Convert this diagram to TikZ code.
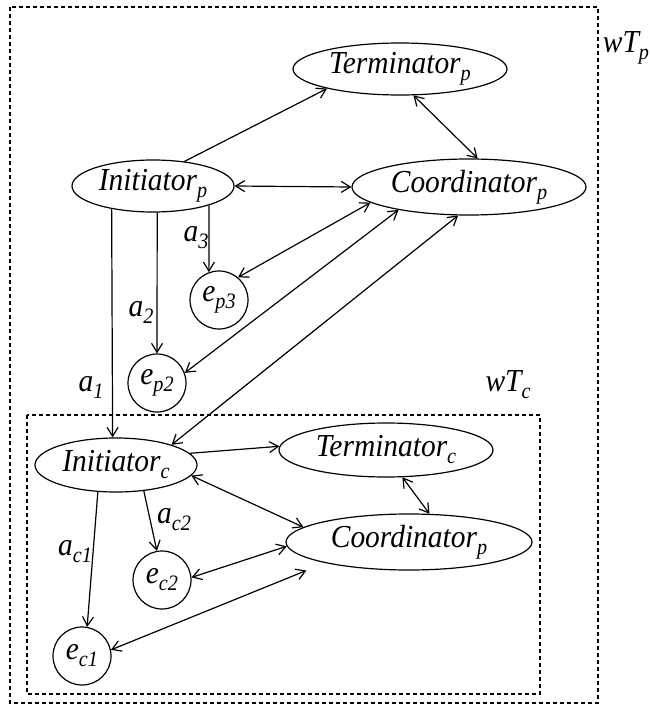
\documentclass[tikz,border=0pt]{standalone}
\usepackage{fontspec}
\setmainfont{Liberation Serif}[FakeStretch=0.92]
\usetikzlibrary{arrows.meta,shapes.geometric}
\newcommand{\mysub}[1]{\raisebox{-3.5pt}{\fontsize{11}{12}\selectfont #1}}
\begin{document}
\begin{tikzpicture}[x=0.5pt,y=-0.5pt,
  every node/.style={font=\itshape\fontsize{16}{19}\selectfont, inner sep=0pt},
  ell/.style={draw, ellipse, line width=0.6pt},
  circ/.style={draw, circle, minimum size=29pt, line width=0.6pt},
  conn/.style={line width=0.6pt, -{Straight Barb[length=4.5pt,width=5.5pt]}},
  bidir/.style={line width=0.6pt, {Straight Barb[length=4.5pt,width=5.5pt]}-{Straight Barb[length=4.5pt,width=5.5pt]}},
  dbox/.style={draw, line width=0.6pt, dash pattern=on 2pt off 1.5pt}
]
\useasboundingbox (0,0) rectangle (650,706);

% frames
\draw[dbox] (10,7) rectangle (598,703);
\draw[dbox] (27,415) rectangle (540,694);

% outer transaction nodes
\node[ell, minimum width=107pt, minimum height=26pt] (Tp) at (400,69) {Terminator\mysub{p}};
\node[ell, minimum width=81pt, minimum height=26pt] (Ip) at (153,186) {Initiator\mysub{p}};
\node[ell, minimum width=117pt, minimum height=28pt] (Cp) at (469,187) {Coordinator\mysub{p}};
\node[circ] (ep3) at (219,300) {e\mysub{p3}};
\node[circ] (ep2) at (157,383) {e\mysub{p2}};

% inner transaction nodes
\node[ell, minimum width=81pt, minimum height=27pt] (Ic) at (116,465) {Initiator\mysub{c}};
\node[ell, minimum width=107pt, minimum height=27pt] (Tc) at (386,450) {Terminator\mysub{c}};
\node[ell, minimum width=123pt, minimum height=28pt] (Cc) at (409,542) {Coordinator\mysub{p}};
\node[circ] (ec2) at (162,580) {e\mysub{c2}};
\node[circ] (ec1) at (82,656) {e\mysub{c1}};

% labels
\node (lwtp) at (626,48) {wT\mysub{p}};
\node (lwtc) at (508,385) {wT\mysub{c}};
\node (la3) at (196,238) {a\mysub{3}};
\node (la2) at (141,312) {a\mysub{2}};
\node (la1) at (91,387) {a\mysub{1}};
\node (lac2) at (174,520) {a\mysub{c2}};
\node (lac1) at (75,552) {a\mysub{c1}};

% connectors
\draw[conn] (Ip.38) -- (Tp.195);
\draw[bidir] (Tp.-63) -- (Cp.73);
\draw[bidir] (Ip.east) -- (Cp.west);
\draw[conn] (Ip.-19) -- (ep3.110);
\draw[conn] (Ip.-81) -- (ep2.north);
\draw[conn] (Ip.-151) -- (Ic.97);
\draw[bidir] (Cp.189) -- (ep3.50);
\draw[bidir] (Cp.-162) -- (ep2.20);
\draw[bidir] (Cp.-111) -- (Ic.20);
\draw[conn] (Ic.9) -- (Tc.178);
\draw[bidir] (Tc.-59) -- (Cc.54);
\draw[bidir] (Ic.-8) -- (Cc.172);
\draw[bidir] (ec2.5) -- (Cc.182);
\draw[bidir, shorten >=10pt] (ec1.12) -- (Cc.-166);
\draw[conn] (Ic.-124) -- (ec1.80);
\draw[conn] (Ic.-43) -- (ec2.100);
\end{tikzpicture}
\end{document}
